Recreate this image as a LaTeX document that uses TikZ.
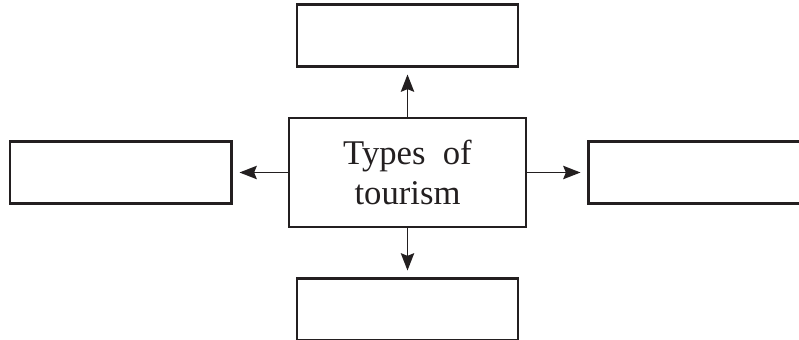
\documentclass[tikz,border=0pt]{standalone}
\usepackage{fontspec}
\setmainfont{Liberation Serif}
\usetikzlibrary{positioning,arrows.meta}
\definecolor{ink}{HTML}{231F20}

\begin{document}
\begin{tikzpicture}[x=0.75pt,y=-0.75pt,
every node/.style={draw=ink,line width=1.8pt,inner sep=0pt},
hub/.style={minimum width=177.75pt,minimum height=81.75pt,align=center,
  font=\fontsize{26}{30}\selectfont,text=ink},
blank/.style={minimum width=166pt,minimum height=46.5pt},
link/.style={ink,line width=1.4pt,shorten >=5pt,
  -{Stealth[length=13pt,width=10pt,inset=2pt]}}]
\useasboundingbox (0,0) rectangle (799,339);
\node[hub] (types) at (407.5,172.5) {Types\ \ of\\tourism};
\node[blank,above=36.75pt of types] (top) {};
\node[blank,below=36.75pt of types] (bottom) {};
\node[blank,left=41.25pt of types] (left) {};
\node[blank,right=45pt of types] (right) {};
% arrows out of the centre box
\draw[link] (types.north) -- (top.south);
\draw[link] (types.south) -- (bottom.north);
\draw[link] (types.west) -- (left.east);
\draw[link] (types.east) -- (right.west);
\end{tikzpicture}
\end{document}
